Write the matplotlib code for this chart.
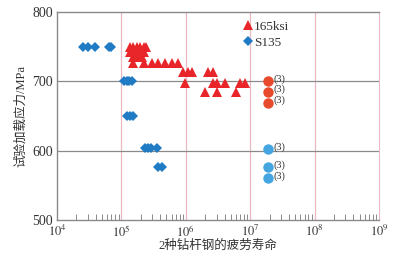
import matplotlib
matplotlib.use("Agg")
import matplotlib.pyplot as plt
from matplotlib.ticker import LogLocator, NullFormatter

plt.rcParams['font.family'] = ['Liberation Serif', 'Noto Sans CJK SC']
plt.rcParams['mathtext.fontset'] = 'stix'

# 165ksi fatigue data (cycles, stress MPa)
ksi_life = [1.35e5, 1.5e5, 1.74e5, 1.94e5, 2.2e5, 2.4e5,
            1.35e5, 1.6e5, 1.9e5, 2.2e5,
            1.5e5, 1.8e5, 2.1e5,
            1.5e5, 2.2e5, 3.0e5, 3.7e5, 4.8e5, 6.1e5, 7.6e5,
            9.1e5, 1.08e6, 1.25e6, 2.2e6, 2.6e6,
            9.8e5, 2.6e6, 3.1e6, 4.1e6, 6.9e6, 8.3e6,
            2.0e6, 3.0e6, 6.0e6]
ksi_stress = [750, 750, 750, 750, 750, 750,
              742, 742, 742, 742,
              735, 735, 735,
              726, 726, 726, 726, 726, 726, 726,
              713, 713, 713, 713, 713,
              698, 698, 698, 698, 698, 698,
              684, 684, 684]

# S135 fatigue data
s135_life = [2.5e4, 3.0e4, 3.9e4, 6.4e4, 6.8e4,
             1.1e5, 1.2e5, 1.3e5, 1.45e5,
             1.24e5, 1.37e5, 1.5e5,
             2.3e5, 2.6e5, 2.9e5, 3.55e5,
             3.7e5, 4.3e5]
s135_stress = [750, 750, 750, 750, 750,
               700, 700, 700, 700,
               650, 650, 650,
               603, 603, 603, 603,
               576, 576]

# Run-outs (3 specimens each)
ksi_runout_life = [1.9e7, 1.9e7, 1.9e7]
ksi_runout_stress = [700, 685, 669]
s135_runout_life = [1.9e7, 1.9e7, 1.9e7]
s135_runout_stress = [602, 576, 560]
runout_label = "(3)"

xticks = [1e4, 1e5, 1e6, 1e7, 1e8, 1e9]
xticklabels = [r'$10^{4}$', r'$10^{5}$', r'$10^{6}$', r'$10^{7}$', r'$10^{8}$', r'$10^{9}$']
yticks = [500, 600, 700, 800]

fig = plt.figure(figsize=(3.99, 2.59), dpi=100)
ax = fig.add_axes([0.143, 0.151, 0.807, 0.803])
ax.set_xscale('log')
ax.set_xlim(1e4, 1e9)
ax.set_ylim(500, 800)

pink = '#eab8c2'
gray = '#8a8a8a'
for x in xticks[1:-1]:
    ax.axvline(x, color=pink, lw=0.9, zorder=0)
for y in [600, 700]:
    ax.axhline(y, color=gray, lw=0.9, zorder=0)

red = '#e8262a'
blue = '#1f7bc4'
ax.plot(ksi_life, ksi_stress, '^', color=red, ms=7.5, mew=0, label='165ksi', zorder=3)
ax.plot(s135_life, s135_stress, 'D', color=blue, ms=5.5, mew=0, label='S135', zorder=3)
ax.plot(ksi_runout_life, ksi_runout_stress, 'o', color='#e84a2e', ms=7.5, mew=0, zorder=3)
ax.plot(s135_runout_life, s135_runout_stress, 'o', color='#45a5e0', ms=7.5, mew=0, zorder=3)
for x, y in zip(ksi_runout_life + s135_runout_life, ksi_runout_stress + s135_runout_stress):
    ax.text(x * 1.2, y + 3, runout_label, fontsize=7.5, va='center', ha='left', color='#333333')

for s in ['top', 'left', 'bottom']:
    ax.spines[s].set_color(gray)
    ax.spines[s].set_linewidth(1.0)
ax.spines['right'].set_color(pink)

ax.set_xticks(xticks)
ax.set_xticklabels(xticklabels)
ax.xaxis.set_minor_locator(LogLocator(base=10, subs=range(2, 10)))
ax.xaxis.set_minor_formatter(NullFormatter())
ax.tick_params(axis='x', which='major', length=0, labelsize=9, pad=3, colors='#333333')
ax.tick_params(axis='x', which='minor', direction='in', length=4, width=0.7, color=gray)
ax.set_yticks(yticks)
ax.tick_params(axis='y', length=0, labelsize=10, pad=3, colors='#333333')

ax.set_xlabel('2种钻杆钢的疲劳寿命', fontsize=9, color='#333333', labelpad=0)
ax.set_ylabel('试验加载应力/MPa', fontsize=9, color='#333333', labelpad=4)

leg = ax.legend(loc='upper left', bbox_to_anchor=(0.555, 0.985), frameon=False, fontsize=9.5,
                handletextpad=0.0, handlelength=1.0, borderaxespad=0, labelspacing=0.3)
for t in leg.get_texts():
    t.set_color('#333333')

fig.savefig('out.png', dpi=100)
